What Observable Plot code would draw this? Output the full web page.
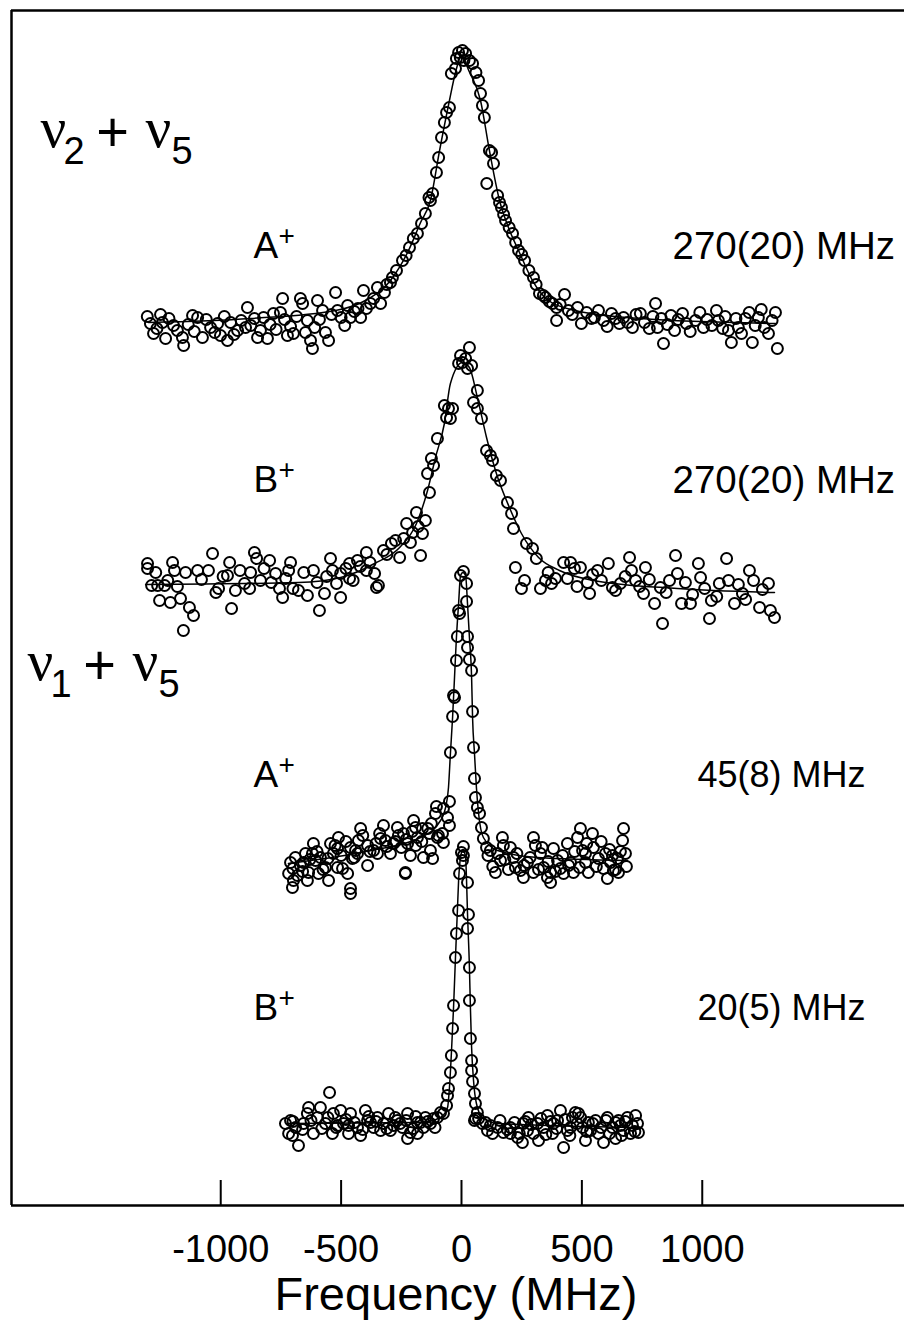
<!DOCTYPE html>
<html>
<head>
<meta charset="utf-8">
<script src="https://cdn.jsdelivr.net/npm/d3@7"></script>
<script src="https://cdn.jsdelivr.net/npm/@observablehq/plot@0.6"></script>
<style>
  html, body { margin: 0; padding: 0; background: #fff; }
  #chart { width: 904px; height: 1323px; }
</style>
</head>
<body>
<div id="chart"></div>
<script>
// ---------- data ----------
const xTicks = [-1000, -500, 0, 500, 1000];
const xTickLabels = ["-1000", "-500", "0", "500", "1000"];
const bandNames = ["A", "B", "A", "B"];
const widthLabels = ["270(20) MHz", "270(20) MHz", "45(8) MHz", "20(5) MHz"];
// vertical stacking offsets of each spectrum (arb. units)
const offsets = [883, 621, 342, 80];

// ν2+ν5 A+ : [frequency MHz, intensity arb.]
const t1 = [[-1305,6],[-1292,-1],[-1279,-11],[-1265,-6],[-1250,8],[-1242,0],[-1229,-16],[-1215,4],[-1196,-3],[-1180,-8],[-1159,-15],[-1154,-23],[-1135,-2],[-1117,7],[-1110,-9],[-1096,5],[-1076,-15],[-1060,3],[-1042,-5],[-1025,-10],[-1013,-1],[-1001,-13],[-985,6],[-972,-18],[-959,0],[-945,-12],[-930,-8],[-915,2],[-897,-5],[-889,15],[-875,-3],[-860,4],[-847,-15],[-835,-8],[-822,5],[-806,-16],[-795,-2],[-781,9],[-770,-7],[-752,10],[-743,24],[-735,3],[-723,-13],[-710,-4],[-698,-11],[-685,6],[-669,24],[-660,19],[-648,-10],[-640,2],[-627,-18],[-619,-26],[-610,-5],[-598,22],[-590,3],[-577,12],[-565,-10],[-552,-18],[-540,8],[-523,30],[-515,12],[-500,5],[-485,-3],[-473,17],[-461,5],[-445,11],[-430,14],[-419,5],[-407,32],[-395,14],[-378,19],[-365,24],[-349,35],[-336,19],[-320,30],[-310,38],[-295,40],[-287,45],[-270,52],[-245,62],[-230,67],[-216,75],[-200,84],[-183,89],[-166,99],[-150,109],[-135,125],[-129,122],[-120,129],[-104,150],[-95,165],[-83,185],[-71,200],[-62,210],[-50,215],[-42,249],[-25,254],[-21,264],[-12,270],[-5,265],[4,272],[10,262],[17,269],[33,262],[46,259],[60,250],[71,242],[79,229],[87,217],[95,205],[105,139],[116,172],[125,170],[133,159],[150,127],[158,120],[166,115],[175,108],[183,102],[198,95],[212,89],[225,80],[237,72],[250,68],[262,62],[280,52],[299,45],[310,38],[324,29],[340,27],[349,25],[365,21],[378,19],[395,15],[395,2],[410,18],[428,28],[444,12],[460,8],[482,15],[498,-1],[520,10],[540,4],[552,5],[569,12],[590,2],[605,-4],[623,9],[640,4],[656,-1],[673,5],[690,0],[710,-5],[725,8],[743,9],[760,0],[780,-6],[795,6],[806,19],[814,-5],[830,4],[839,-21],[855,-2],[870,7],[885,-8],[900,3],[918,9],[934,-1],[950,-9],[972,2],[990,10],[1005,-5],[1020,3],[1040,-3],[1059,12],[1067,2],[1085,-6],[1095,6],[1109,-8],[1121,-20],[1140,4],[1150,-5],[1163,-11],[1179,4],[1195,10],[1208,-20],[1220,-3],[1233,5],[1245,13],[1258,-5],[1275,-11],[1290,2],[1304,10],[1312,-26]];

// ν2+ν5 B+
const t2 = [[-1304,21],[-1304,16],[-1287,-1],[-1270,12],[-1262,-1],[-1254,-16],[-1233,-1],[-1220,4],[-1209,-18],[-1200,22],[-1192,14],[-1180,-2],[-1167,-14],[-1155,-46],[-1146,12],[-1130,-23],[-1113,-31],[-1096,14],[-1080,5],[-1051,14],[-1034,31],[-1020,-8],[-1009,-4],[-990,8],[-972,9],[-963,22],[-955,-24],[-939,-6],[-920,14],[-901,1],[-880,-4],[-876,12],[-860,32],[-851,26],[-835,4],[-820,16],[-797,24],[-790,2],[-772,11],[-756,-4],[-743,-13],[-730,6],[-718,14],[-710,22],[-700,-4],[-677,-6],[-655,12],[-640,-11],[-615,14],[-600,2],[-590,-26],[-569,-9],[-560,8],[-544,26],[-536,14],[-519,1],[-502,11],[-502,-13],[-480,16],[-465,21],[-465,6],[-450,4],[-432,24],[-420,18],[-395,32],[-395,14],[-380,22],[-361,11],[-353,-3],[-345,-1],[-324,34],[-310,30],[-291,41],[-274,44],[-257,27],[-240,46],[-228,61],[-212,42],[-203,52],[-187,72],[-180,58],[-170,29],[-162,51],[-150,64],[-141,111],[-133,92],[-125,126],[-116,119],[-100,146],[-71,179],[-62,167],[-54,176],[-46,166],[-37,176],[-12,221],[-4,229],[4,222],[17,226],[25,216],[33,237],[42,219],[50,182],[66,194],[66,176],[83,166],[104,134],[120,129],[129,124],[145,109],[162,104],[191,82],[208,71],[216,56],[224,17],[249,-4],[262,4],[270,41],[295,36],[311,26],[328,-4],[349,4],[360,12],[374,1],[390,6],[424,22],[440,6],[453,22],[469,16],[480,-2],[494,17],[523,2],[532,-9],[545,10],[565,14],[581,4],[610,21],[627,-3],[640,-6],[660,1],[680,8],[698,27],[706,14],[723,4],[740,-2],[756,-9],[764,17],[780,5],[802,-19],[826,-3],[835,-39],[850,-8],[864,4],[889,29],[897,11],[914,-19],[930,2],[951,-19],[960,-10],[984,21],[993,7],[1010,-4],[1030,-34],[1038,-16],[1060,-12],[1071,1],[1101,26],[1109,4],[1134,-19],[1150,0],[1167,-9],[1180,-15],[1196,14],[1213,4],[1238,-23],[1250,-5],[1275,1],[1283,-26],[1300,-33]];

// ν1+ν5 A+
const t3 = [[-718,-10],[-710,1],[-702,-24],[-700,-5],[-698,-17],[-690,6],[-681,-12],[-669,-2],[-660,-8],[-656,1],[-648,10],[-640,-17],[-635,-9],[-630,4],[-619,10],[-615,20],[-606,3],[-600,12],[-594,-10],[-586,6],[-575,-6],[-565,-4],[-555,5],[-552,-17],[-544,20],[-532,10],[-525,18],[-515,15],[-515,-4],[-511,26],[-500,8],[-494,-5],[-480,22],[-473,-10],[-461,16],[-461,-25],[-461,-30],[-453,5],[-445,6],[-440,13],[-432,10],[-428,23],[-419,35],[-410,28],[-390,18],[-390,-2],[-380,12],[-365,13],[-355,20],[-349,10],[-340,30],[-336,25],[-324,38],[-316,23],[-310,17],[-295,10],[-282,20],[-275,22],[-266,36],[-262,28],[-250,16],[-241,30],[-233,-9],[-233,-10],[-230,24],[-224,20],[-212,8],[-205,32],[-199,43],[-191,36],[-190,18],[-183,26],[-165,22],[-162,35],[-158,6],[-140,35],[-133,30],[-129,13],[-125,40],[-120,5],[-108,50],[-104,57],[-100,26],[-96,28],[-79,30],[-75,55],[-75,21],[-58,46],[-50,62],[-50,38],[-46,111],[-37,147],[-33,168],[-29,166],[-21,203],[-17,227],[-12,253],[-8,250],[-4,288],[8,292],[21,280],[21,262],[25,227],[25,216],[33,204],[42,193],[46,152],[50,116],[54,85],[58,66],[66,56],[75,50],[83,36],[91,25],[104,16],[110,8],[120,13],[130,-3],[141,-9],[150,10],[162,3],[170,26],[174,18],[180,4],[195,-6],[203,16],[216,6],[224,-4],[230,10],[245,-7],[257,-14],[260,-2],[274,1],[285,6],[299,26],[299,-9],[307,18],[320,-6],[328,10],[335,16],[341,-4],[357,-14],[360,2],[370,-19],[370,-9],[382,15],[390,-8],[399,3],[411,-5],[420,8],[424,-10],[440,20],[445,-2],[453,1],[465,-9],[470,12],[482,26],[490,-4],[494,35],[503,13],[515,1],[515,10],[520,20],[527,-9],[544,30],[548,16],[560,-3],[569,5],[580,22],[590,-5],[598,10],[606,-15],[615,14],[619,1],[627,8],[631,-7],[640,-6],[648,5],[652,-9],[660,12],[669,23],[673,35],[681,10],[685,-3]];

// ν1+ν5 B+
const t4 = [[-731,2],[-718,-8],[-710,5],[-702,-10],[-700,4],[-689,-2],[-677,-20],[-660,-4],[-656,2],[-640,12],[-635,18],[-625,5],[-615,-8],[-598,8],[-586,18],[-580,-3],[-565,2],[-555,8],[-548,33],[-536,-8],[-532,12],[-520,-2],[-515,0],[-502,15],[-490,2],[-480,6],[-469,-8],[-469,0],[-461,12],[-445,3],[-432,-2],[-419,-10],[-410,-4],[-399,15],[-390,5],[-385,9],[-378,3],[-365,-2],[-355,4],[-349,8],[-336,-5],[-324,2],[-310,-3],[-303,12],[-295,-5],[-282,0],[-275,8],[-266,5],[-255,2],[-245,-2],[-230,5],[-224,12],[-224,-13],[-212,-7],[-200,-3],[-190,9],[-183,-8],[-183,3],[-170,3],[-158,-2],[-150,8],[-140,4],[-129,2],[-116,7],[-110,-2],[-100,8],[-87,13],[-75,12],[-62,20],[-58,30],[-54,37],[-46,53],[-42,70],[-37,97],[-33,120],[-25,168],[-21,192],[-12,215],[-8,252],[0,273],[4,265],[8,279],[8,270],[25,243],[25,197],[29,211],[33,158],[33,125],[37,87],[42,65],[42,55],[46,44],[54,32],[54,5],[58,22],[58,7],[66,13],[71,7],[87,2],[100,3],[108,-5],[120,0],[129,-8],[150,-2],[160,5],[174,-7],[190,-4],[203,-2],[203,-8],[220,3],[233,-12],[240,-8],[253,-17],[257,2],[265,4],[274,-5],[278,8],[290,1],[299,-8],[316,2],[320,-15],[330,7],[341,-2],[350,-9],[357,10],[370,4],[378,-8],[382,2],[395,-3],[399,5],[411,15],[424,-22],[430,6],[440,-5],[450,-10],[453,-2],[461,8],[473,13],[480,2],[486,12],[495,8],[503,-2],[515,-15],[520,-6],[527,3],[536,-5],[545,2],[557,5],[569,-8],[580,-2],[590,-17],[600,5],[606,8],[615,-8],[627,-2],[640,-13],[640,3],[652,5],[660,0],[665,-10],[673,-5],[680,4],[689,8],[702,-8],[710,0],[720,-6],[723,10],[731,2],[735,-7]];

// fitted line shapes
const fit1 = [[-1300,0],[-876,4],[-523,12],[-399,22],[-295,42],[-220,72],[-170,100],[-129,122],[-91,172],[-50,222],[-25,250],[0,267],[30,252],[79,222],[116,172],[158,122],[195,95],[237,72],[295,42],[361,22],[473,12],[743,4],[1304,-1]];
const fit2 = [[-1312,0],[-677,2],[-502,7],[-361,21],[-257,37],[-187,61],[-141,94],[-108,127],[-71,161],[-46,201],[4,222],[33,217],[66,187],[104,147],[145,111],[199,77],[249,51],[320,27],[407,14],[548,4],[897,-4],[1300,-8]];
const fit3 = [[-719,0],[-378,13],[-170,26],[-87,43],[-66,56],[-54,76],[-46,110],[-37,146],[-29,186],[-21,226],[-12,260],[-4,288],[6,291],[17,288],[25,260],[33,226],[42,186],[46,146],[54,110],[62,76],[71,50],[91,26],[150,13],[316,6],[689,3]];
const fit4 = [[-723,2],[-170,3],[-87,8],[-58,18],[-50,38],[-42,72],[-33,118],[-25,168],[-17,215],[-12,245],[-4,268],[6,276],[17,268],[21,245],[25,212],[33,158],[37,118],[42,78],[50,45],[62,22],[87,8],[150,2],[731,-2]];

const traces = [t1, t2, t3, t4];
const fits = [fit1, fit2, fit3, fit4];
const X_DOMAIN = [-1869, 1840];
const Y_DOMAIN = [0, 1195];

// ---------- build ----------
const points = traces.flatMap((t, i) => t.map(([f, v]) => ({f, y: v + offsets[i], trace: i})));
const lines = fits.flatMap((t, i) => t.map(([f, v]) => ({f, y: v + offsets[i], trace: i})));

const SANS = "Liberation Sans, Arial, Helvetica, sans-serif";
const SERIF = "Liberation Serif, Times New Roman, serif";

// label placement (pixels from top-left of frame)
const labelDy = [236, 470, 765, 998];
const widthDx = [661, 661, 686, 686];
const widthFont = [38.5, 38.5, 36, 36];

const T = {frameAnchor: "top-left", lineAnchor: "middle", textAnchor: "start", fill: "black"};
const textMarks = [];
bandNames.forEach((b, i) => {
  textMarks.push(Plot.text([b], {...T, text: d => d, dx: 242, dy: labelDy[i], fontSize: 37, fontFamily: SANS}));
  textMarks.push(Plot.text(["+"], {...T, text: d => d, dx: 267, dy: labelDy[i] - 10, fontSize: 28, fontFamily: SANS}));
  textMarks.push(Plot.text([widthLabels[i]], {...T, text: d => d, dx: widthDx[i], dy: labelDy[i], fontSize: widthFont[i], fontFamily: SANS}));
});

// band labels ν2 + ν5 and ν1 + ν5
function modeLabel(sub1, sub2, dx0, dy0) {
  return [
    Plot.text(["ν"], {...T, text: d => d, dx: dx0, dy: dy0, fontSize: 57, fontFamily: SERIF}),
    Plot.text([sub1], {...T, text: d => d, dx: dx0 + 23, dy: dy0 + 23, fontSize: 38, fontFamily: SANS}),
    Plot.text(["+"], {...T, text: d => d, dx: dx0 + 72, dy: dy0 + 5, fontSize: 56, fontFamily: SANS, textAnchor: "middle"}),
    Plot.text(["ν"], {...T, text: d => d, dx: dx0 + 105, dy: dy0, fontSize: 57, fontFamily: SERIF}),
    Plot.text([sub2], {...T, text: d => d, dx: dx0 + 131, dy: dy0 + 23, fontSize: 38, fontFamily: SANS})
  ];
}

const chart = Plot.plot({
  width: 904,
  height: 1323,
  marginLeft: 11,
  marginRight: 0,
  marginTop: 10,
  marginBottom: 118,
  x: {domain: X_DOMAIN, axis: null},
  y: {domain: Y_DOMAIN, axis: null},
  style: {background: "white", fontFamily: SANS, color: "black"},
  marks: [
    // frame: left, top, bottom
    Plot.ruleX([X_DOMAIN[0]], {stroke: "black", strokeWidth: 2.5}),
    Plot.ruleY(Y_DOMAIN, {stroke: "black", strokeWidth: 2.5}),
    // inward ticks
    Plot.ruleX(xTicks, {stroke: "black", strokeWidth: 2, insetTop: 1170}),
    Plot.text(xTicks, {x: d => d, text: (d, i) => xTickLabels[i], frameAnchor: "bottom", lineAnchor: "middle", dy: 44, fontSize: 38, fontFamily: SANS, fill: "black"}),
    Plot.text(["Frequency (MHz)"], {text: d => d, frameAnchor: "bottom", lineAnchor: "middle", dy: 89, dx: -2, fontSize: 47, fontFamily: SANS, fill: "black"}),
    // fits
    Plot.line(lines, {x: "f", y: "y", z: "trace", curve: "monotone-x", stroke: "black", strokeWidth: 1.5}),
    // data
    Plot.dot(points, {x: "f", y: "y", r: 5.5, stroke: "black", strokeWidth: 2, fill: "none"}),
    ...textMarks,
    ...modeLabel("2", "5", 29, 118),
    ...modeLabel("1", "5", 16, 651)
  ]
});
document.getElementById("chart").appendChild(chart);
</script>
</body>
</html>
